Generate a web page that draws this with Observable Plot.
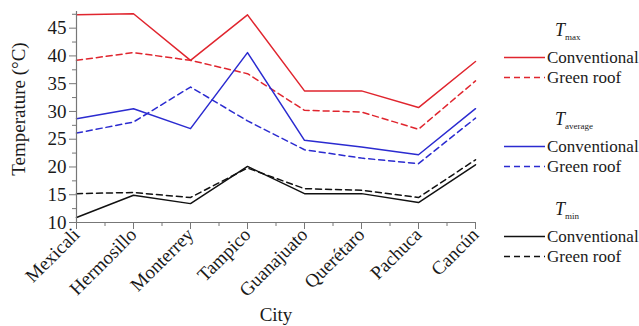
<!DOCTYPE html>
<html>
<head>
<meta charset="utf-8">
<script src="https://cdn.jsdelivr.net/npm/d3@7"></script>
<script src="https://cdn.jsdelivr.net/npm/@observablehq/plot@0.6"></script>
<style>
  body { margin: 0; background: #fff; }
  #chart { width: 639px; height: 326px; overflow: hidden; }
</style>
</head>
<body>
<div id="chart"></div>
<script>
// Cities along the x axis
const cities = ["Mexicali", "Hermosillo", "Monterrey", "Tampico", "Guanajuato", "Querétaro", "Pachuca", "Cancún"];

// Temperatures (°C) per city
const tmaxConventional = [47.4, 47.6, 39.2, 47.4, 33.7, 33.7, 30.7, 39.0];
const tmaxGreenRoof    = [39.2, 40.6, 39.2, 36.8, 30.2, 29.9, 26.8, 35.5];
const tavgConventional = [28.7, 30.5, 26.9, 40.6, 24.8, 23.6, 22.2, 30.5];
const tavgGreenRoof    = [26.1, 28.1, 34.4, 28.3, 23.1, 21.6, 20.6, 28.8];
const tminConventional = [10.9, 14.9, 13.4, 20.1, 15.2, 15.2, 13.6, 20.4];
const tminGreenRoof    = [15.2, 15.4, 14.5, 19.8, 16.1, 15.8, 14.5, 21.3];

// Axis ticks
const yTicks = [10, 15, 20, 25, 30, 35, 40, 45];
const yMinorTicks = [12.5, 17.5, 22.5, 27.5, 32.5, 37.5, 42.5, 47.5];
const roofTypes = ["Conventional", "Green roof"];

const groups = [
  {sub: "max",     color: "#e0252e", values: [tmaxConventional, tmaxGreenRoof]},
  {sub: "average", color: "#2b2bd0", values: [tavgConventional, tavgGreenRoof]},
  {sub: "min",     color: "#111111", values: [tminConventional, tminGreenRoof]}
];

const dash = "6,4";
const serif = "'Liberation Serif', 'Times New Roman', serif";

const lineMarks = [];
for (const g of groups) {
  g.values.forEach((vals, k) => {
    const rows = vals.map((v, i) => ({i, city: cities[i], value: v}));
    lineMarks.push(Plot.line(rows, {
      x: "i", y: "value",
      stroke: g.color, strokeWidth: 1.5,
      strokeDasharray: k === 1 ? dash : null
    }));
  });
}

const cityIndex = d3.range(cities.length);
const xMinor = d3.range(cities.length - 1).map(i => i + 0.5);

const chart = Plot.plot({
  width: 639,
  height: 326,
  marginLeft: 76,
  marginRight: 164,
  marginTop: 11,
  marginBottom: 104,
  style: {fontFamily: serif, fontSize: "19px", color: "#1a1a1a", background: "#fff"},
  x: {type: "linear", domain: [0, cities.length - 1]},
  y: {domain: [10, 48]},
  marks: [
    ...lineMarks,
    Plot.ruleY([10], {stroke: "#777", strokeWidth: 1.2}),
    Plot.ruleX([0], {stroke: "#777", strokeWidth: 1.2}),
    Plot.axisY(yTicks, {tickSize: 7, tickPadding: 3, stroke: "#777", fill: "#1a1a1a", fontSize: 19, label: null}),
    Plot.axisY(yMinorTicks, {tickSize: 4, stroke: "#777", tickFormat: () => "", label: null}),
    Plot.axisX(cityIndex, {
      tickSize: 7, tickPadding: 2, tickRotate: -45,
      tickFormat: i => cities[i], stroke: "#777", fill: "#1a1a1a", fontSize: 19, label: null
    }),
    Plot.axisX(xMinor, {tickSize: 4, stroke: "#777", tickFormat: () => "", label: null}),
    Plot.text(["Temperature (°C)"], {
      frameAnchor: "left", textAnchor: "middle", lineAnchor: "middle",
      rotate: -90, dx: -58, dy: -8, fontSize: 19, fill: "#1a1a1a"
    }),
    Plot.text(["City"], {
      frameAnchor: "bottom", textAnchor: "middle", lineAnchor: "middle",
      dy: 92, fontSize: 19, fill: "#1a1a1a"
    })
  ]
});

document.getElementById("chart").appendChild(chart);

// Legend: one block per temperature statistic, two roof types each
const svg = d3.select(chart);
const legend = svg.append("g")
  .attr("font-family", serif)
  .attr("fill", "#1a1a1a")
  .attr("text-anchor", "start");
const blockTops = [36, 125, 215];
groups.forEach((g, gi) => {
  const y0 = blockTops[gi];
  const title = legend.append("text").attr("x", 555).attr("y", y0);
  title.append("tspan").attr("font-style", "italic").attr("font-size", 18).text("T");
  title.append("tspan").attr("font-size", 9).attr("dy", 4).text(g.sub);
  roofTypes.forEach((name, k) => {
    const yy = y0 + 21.5 + k * 20;
    legend.append("line")
      .attr("x1", 504).attr("x2", 545).attr("y1", yy).attr("y2", yy)
      .attr("stroke", g.color).attr("stroke-width", 1.5)
      .attr("stroke-dasharray", k === 1 ? dash : null);
    legend.append("text").attr("x", 547).attr("y", yy).attr("dy", "0.32em")
      .attr("font-size", 17).text(name);
  });
});
</script>
</body>
</html>
